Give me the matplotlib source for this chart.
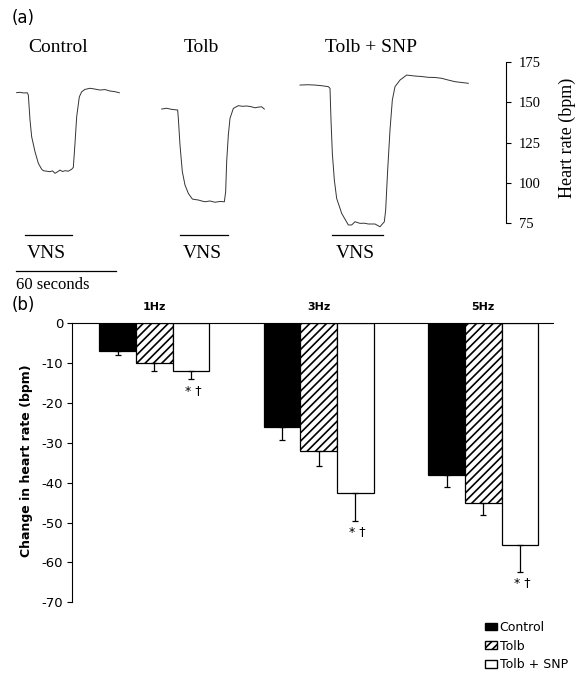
import matplotlib
matplotlib.use("Agg")
import matplotlib.pyplot as plt
import numpy as np
from matplotlib.patches import Patch

# ---------------- data: panel (a) heart-rate traces (local time s, bpm) -------------
trace_titles = ["Control", "Tolb", "Tolb + SNP"]

control_t = [0, 2, 4, 6.4, 7.0, 8.0, 9.0, 11.0, 13.0, 15.0, 16.0, 18.0, 20.0, 21.5, 23.0,
             24.5, 26.0, 27.5, 29.0, 31.0, 33.0, 34.0, 35.0, 36.0, 37.6, 39.0, 41.0, 44.0,
             47.0, 50.0, 53.0, 56.0, 59.0, 61.6]
control_hr = [156.0, 156.2, 155.8, 155.9, 154.5, 139.0, 128.6, 119.3, 112.1, 108.4, 107.5,
              107.2, 106.9, 107.4, 105.9, 106.8, 107.9, 107.0, 107.5, 107.2, 108.4, 109.6,
              124.5, 141.0, 153.4, 156.5, 158.0, 158.7, 158.2, 157.6, 157.9, 157.0, 156.6,
              155.9]

tolb_t = [0, 3, 6, 9.6, 10.0, 11.0, 12.4, 14.0, 16.0, 18.4, 20, 22.0, 24, 26.0, 29.0, 32.0,
          35, 37.6, 38.4, 39.0, 40.0, 41.0, 43.0, 46.0, 48.5, 51.0, 53.5, 56.0, 58, 60.0, 61.6]
tolb_hr = [145.8, 146.3, 145.6, 145.2, 140.0, 123.4, 106.9, 98.6, 93.4, 89.9, 89.6, 89.3,
           88.7, 88.2, 88.7, 87.9, 88.4, 88.2, 94.4, 113.1, 129.7, 140.0, 146.2, 147.9,
           147.5, 147.7, 147.3, 146.6, 147.0, 147.2, 145.8]

snp_t = [0, 4.5, 9.0, 13, 17.0, 18.0, 18.6, 19.4, 20.6, 22.0, 25.0, 29.0, 31.0, 33.0, 36.0,
         38.5, 41.0, 45.0, 48.0, 50.6, 51.4, 52.6, 54.0, 55.4, 57.0, 60.0, 64.0, 69.0, 73,
         77.0, 81, 85.0, 89, 93.0, 97, 101.0]
snp_hr = [160.7, 160.9, 160.7, 160.3, 159.7, 158.7, 139.0, 118.3, 101.7, 90.3, 81.0, 73.8,
          73.8, 75.8, 74.8, 74.9, 74.4, 74.4, 72.7, 75.8, 83.1, 107.9, 132.8, 151.4, 159.7,
          163.8, 166.9, 166.3, 166.0, 165.5, 165.4, 164.9, 163.8, 162.8, 162.3, 161.8]

vns_on = [5.0, 11.0, 19.0]      # s, local time of each trace
vns_off = [33.0, 39.6, 49.6]
hr_ticks = [75, 100, 125, 150, 175]
scale_bar_seconds = 60

# ---------------- data: panel (b) bar chart ----------------
freq_labels = ["1Hz", "3Hz", "5Hz"]
series_names = ["Control", "Tolb", "Tolb + SNP"]
control_mean = [-7.0, -26.0, -38.1]
control_sem = [1.0, 3.3, 2.9]
tolb_mean = [-10.0, -32.1, -45.2]
tolb_sem = [2.0, 3.7, 3.0]
snp_mean = [-12.0, -42.5, -55.6]
snp_sem = [2.0, 7.0, 6.7]
sig_mark = "* †"
y_ticks_b = [0, -10, -20, -30, -40, -50, -60, -70]

# ---------------- figure ----------------
W, H = 576, 679
plt.rcParams["hatch.linewidth"] = 1.2
plt.rcParams["axes.unicode_minus"] = False
fig = plt.figure(figsize=(W / 100, H / 100), dpi=100)

def fx(px):
    return px / W

def fy(py):
    return 1 - py / H

SERIF = "Liberation Serif"
SANS = "DejaVu Sans"

# ---- panel (a)
px_per_s = 100 / 60.0
axa = fig.add_axes([0, fy(290), 505.7 / W, 260 / H])
axa.set_xlim(0, 505.7 / px_per_s)
axa.set_ylim(33.4, 194.9)
trace_offsets = [10.0, 97.0, 180.0]
traces = [(control_t, control_hr), (tolb_t, tolb_hr), (snp_t, snp_hr)]
xt = axa.get_xaxis_transform()
title_centers = [34.8, 120.6, 222.3]
for (t, hr), off, on, offv, title, tc in zip(traces, trace_offsets, vns_on, vns_off,
                                            trace_titles, title_centers):
    axa.plot(np.array(t) + off, hr, color="#333333", lw=0.7)
    axa.plot([off + on, off + offv], [0.2115, 0.2115], transform=xt, color="black",
             lw=0.9, clip_on=False)
    axa.text(off + (on + offv) / 2 - 1, 0.1423, "VNS", transform=xt, ha="center",
             va="center", family=SERIF, fontsize=14)
    axa.text(tc, 0.9308, title, transform=xt, ha="center", va="center", family=SERIF,
             fontsize=14)

axa.plot([9.6, 9.6 + scale_bar_seconds], [0.0731, 0.0731], transform=xt, color="black",
         lw=0.9, clip_on=False)
axa.text(9.6, 0.0192, "60 seconds", transform=xt, ha="left", va="center", family=SERIF,
         fontsize=12)

for s in ["left", "top", "bottom"]:
    axa.spines[s].set_visible(False)
axa.spines["right"].set_bounds(hr_ticks[0], hr_ticks[-1])
axa.spines["right"].set_linewidth(0.8)
axa.set_xticks([])
axa.yaxis.tick_right()
axa.set_yticks(hr_ticks)
axa.tick_params(axis="y", direction="out", length=3.5, width=0.8, pad=6, labelsize=10.5)
for lab in axa.get_yticklabels():
    lab.set_family(SERIF)
axa.patch.set_visible(False)

fig.text(fx(567.5), fy(138), "Heart rate (bpm)", rotation=90, ha="center", va="center",
         family=SERIF, fontsize=13)
fig.text(fx(12), fy(18), "(a)", ha="left", va="center", family=SANS, fontsize=12)

# ---- panel (b)
axb = fig.add_axes([fx(72), fy(602.3), (553 - 72) / W, (602.3 - 323) / H])
axb.set_xlim(-0.5, 2.424)
axb.set_ylim(-70, 0)
x = np.arange(len(freq_labels))
w = 0.222
axb.bar(x - w, control_mean, w, color="black", edgecolor="black", lw=0.9, zorder=2)
axb.bar(x, tolb_mean, w, color="white", edgecolor="black", hatch="////", lw=0.9, zorder=2)
axb.bar(x + w, snp_mean, w, color="white", edgecolor="black", lw=0.9, zorder=2)
for xs, m, e in [(x - w, control_mean, control_sem), (x, tolb_mean, tolb_sem),
                 (x + w, snp_mean, snp_sem)]:
    axb.errorbar(xs, m, yerr=[e, np.zeros(len(e))], fmt="none", ecolor="black",
                 elinewidth=0.9, capsize=2.5, capthick=0.9, zorder=3)

for i, lab in enumerate(freq_labels):
    axb.text(x[i], 4.0, lab, ha="center", va="center", fontsize=8, fontweight="bold",
             family=SANS, clip_on=False)
    axb.text(x[i] + w + 0.015, snp_mean[i] - snp_sem[i] - 1.2, sig_mark, ha="center",
             va="top", fontsize=9, family=SANS)

axb.spines["bottom"].set_visible(False)
axb.spines["right"].set_visible(False)
axb.spines["top"].set_linewidth(0.8)
axb.spines["left"].set_linewidth(0.8)
axb.set_xticks([])
axb.set_yticks(y_ticks_b)
axb.tick_params(axis="y", direction="out", length=3.3, width=0.8, pad=3, labelsize=9.5)

fig.text(fx(26.5), fy(461), "Change in heart rate (bpm)", rotation=90, ha="center",
         va="center", fontsize=9, fontweight="bold", family=SANS)
fig.text(fx(12), fy(305), "(b)", ha="left", va="center", family=SANS, fontsize=12)

handles = [Patch(facecolor="black", edgecolor="black"),
           Patch(facecolor="white", edgecolor="black", hatch="////"),
           Patch(facecolor="white", edgecolor="black")]
fig.legend(handles, series_names, loc="upper left", bbox_to_anchor=(fx(485), fy(621)),
           bbox_transform=fig.transFigure, frameon=False, borderpad=0, borderaxespad=0,
           handlelength=0.96, handleheight=0.56, handletextpad=0.2, labelspacing=0.45,
           prop={"family": SANS, "size": 9})

fig.savefig("out.png", dpi=100)
